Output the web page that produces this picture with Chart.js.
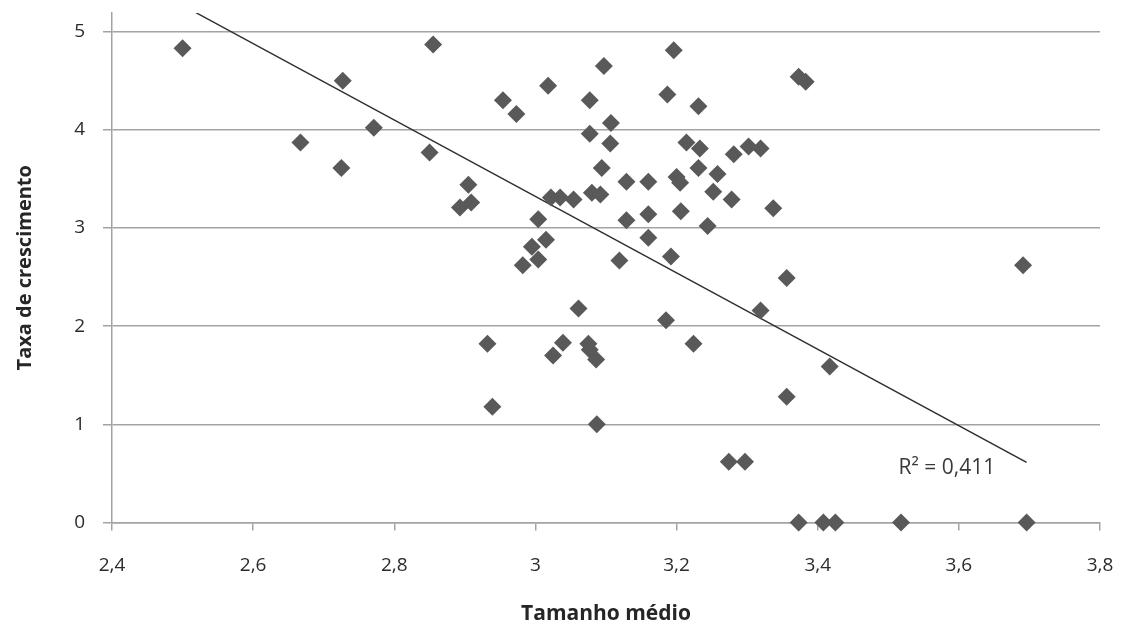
<!DOCTYPE html>
<html>
<head>
<meta charset="utf-8">
<script src="https://cdn.jsdelivr.net/npm/chart.js@4.4.1/dist/chart.umd.min.js"></script>
<style>
  html, body { margin: 0; padding: 0; background: #fff; }
  canvas { display: block; }
</style>
</head>
<body>
<canvas id="grafico" width="1122" height="630"></canvas>
<script>
// tamanho medio (x) e taxa de crescimento (y)
const tamanho = [
  2.500, 2.727, 2.855, 2.771, 2.667, 2.725, 2.850, 2.905, 2.893, 2.909,
  2.954, 3.196, 3.097, 3.018, 2.973, 3.077, 3.187, 3.231, 3.373, 3.383,
  3.077, 3.107, 3.106, 3.214, 3.233, 3.281, 3.302, 3.319, 3.094, 3.231,
  3.258, 3.129, 3.160, 3.200, 3.205, 3.252, 3.022, 3.035, 3.054, 3.080,
  3.092, 3.278, 3.337, 3.004, 3.129, 3.160, 3.206, 3.244, 3.015, 2.995,
  3.004, 2.982, 3.160, 3.119, 3.192, 3.356, 3.061, 3.185, 3.319, 2.932,
  3.039, 3.025, 3.075, 3.077, 3.086, 3.224, 3.417, 3.356, 2.939, 3.087,
  3.274, 3.297, 3.373, 3.408, 3.425, 3.518, 3.696, 3.691
];
const taxa = [
  4.83, 4.50, 4.87, 4.02, 3.87, 3.61, 3.77, 3.44, 3.21, 3.26,
  4.30, 4.81, 4.65, 4.45, 4.16, 4.30, 4.36, 4.24, 4.54, 4.49,
  3.96, 4.07, 3.86, 3.87, 3.81, 3.75, 3.83, 3.81, 3.61, 3.61,
  3.55, 3.47, 3.47, 3.52, 3.46, 3.37, 3.31, 3.31, 3.29, 3.36,
  3.34, 3.29, 3.20, 3.09, 3.08, 3.14, 3.17, 3.02, 2.88, 2.81,
  2.68, 2.62, 2.90, 2.67, 2.71, 2.49, 2.18, 2.06, 2.16, 1.82,
  1.83, 1.70, 1.82, 1.76, 1.66, 1.82, 1.59, 1.28, 1.18, 1.00,
  0.62, 0.62, 0, 0, 0, 0, 0, 2.62
];

// linha de tendencia (extremos)
const tendX = [2.519, 3.696];
const tendY = [5.193, 0.613];

const ticksX = [2.4, 2.6, 2.8, 3.0, 3.2, 3.4, 3.6, 3.8];
const rotulosX = ['2,4', '2,6', '2,8', '3', '3,2', '3,4', '3,6', '3,8'];
const ticksY = [0, 1, 2, 3, 4, 5];
const textoR2 = 'R² = 0,411';

const corGrade = '#a3a3a3';
const corTexto = '#2b2b2b';
const fonte = "'Open Sans', 'Liberation Sans', sans-serif";

const pontos = tamanho.map((x, i) => ({ x: x, y: taxa[i] }));
const tendencia = tendX.map((x, i) => ({ x: x, y: tendY[i] }));

// escreve o R² perto do fim da linha
const rotuloR2 = {
  id: 'rotuloR2',
  afterDatasetsDraw(chart) {
    const ctx = chart.ctx;
    const sx = chart.scales.x, sy = chart.scales.y;
    ctx.save();
    ctx.font = '21px ' + fonte;
    ctx.fillStyle = '#3a3a3a';
    ctx.textAlign = 'left';
    ctx.textBaseline = 'middle';
    ctx.fillText(textoR2, sx.getPixelForValue(3.5146), sy.getPixelForValue(0.56));
    ctx.restore();
  }
};

new Chart(document.getElementById('grafico'), {
  type: 'scatter',
  data: {
    datasets: [
      {
        label: 'Taxa',
        data: pontos,
        pointStyle: 'rectRot',
        pointRadius: 9,
        pointHoverRadius: 9,
        pointBackgroundColor: '#595959',
        pointBorderWidth: 0,
        clip: false
      },
      {
        label: 'Tendência',
        type: 'line',
        data: tendencia,
        borderColor: '#2e2e2e',
        borderWidth: 1.5,
        pointRadius: 0,
        fill: false
      }
    ]
  },
  options: {
    responsive: false,
    animation: false,
    layout: { padding: { left: 12, right: 22, top: 13, bottom: 3.5 } },
    plugins: {
      legend: { display: false },
      tooltip: { enabled: false }
    },
    scales: {
      x: {
        type: 'linear',
        min: 2.4,
        max: 3.8,
        afterBuildTicks: axis => { axis.ticks = ticksX.map(v => ({ value: v })); },
        afterFit: s => { s.height = 104; s.paddingLeft = 0; s.paddingRight = 0; },
        ticks: {
          callback: (v, i) => rotulosX[i],
          font: { family: fonte, size: 19 },
          color: corTexto,
          padding: 24,
          maxRotation: 0,
          autoSkip: false
        },
        grid: { drawOnChartArea: false, drawTicks: true, tickLength: 8, color: corGrade, lineWidth: 1.5 },
        border: { display: true, color: corGrade, width: 1.5 },
        title: {
          display: true,
          text: 'Tamanho médio',
          font: { family: fonte, size: 21, weight: 'bold' },
          color: '#262626',
          padding: { top: 0, bottom: 0 }
        }
      },
      y: {
        type: 'linear',
        min: 0,
        max: 5.19,
        afterBuildTicks: axis => { axis.ticks = ticksY.map(v => ({ value: v })); },
        afterFit: s => { s.width = 100; s.paddingTop = 0; s.paddingBottom = 0; },
        ticks: {
          font: { family: fonte, size: 19 },
          color: corTexto,
          padding: 18
        },
        grid: { drawOnChartArea: true, drawTicks: true, tickLength: 9, color: corGrade, lineWidth: 1.5 },
        border: { display: true, color: corGrade, width: 1.5 },
        title: {
          display: true,
          text: 'Taxa de crescimento',
          font: { family: fonte, size: 20, weight: 'bold' },
          color: '#262626',
          padding: { top: 1, bottom: 0 }
        }
      }
    }
  },
  plugins: [rotuloR2]
});
</script>
</body>
</html>
